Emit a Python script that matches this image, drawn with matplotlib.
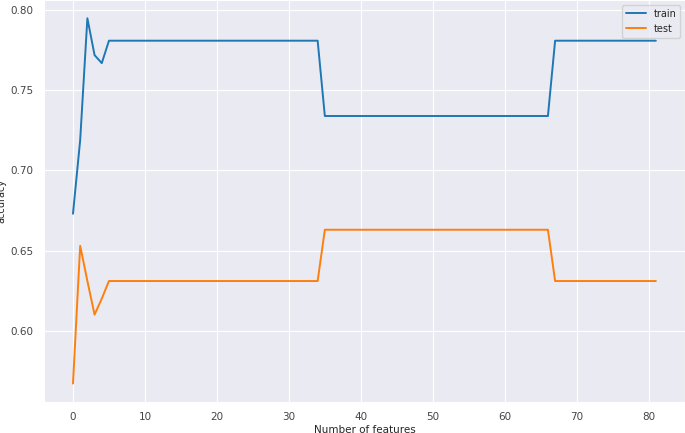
import matplotlib
matplotlib.use("Agg")
import matplotlib.pyplot as plt
import seaborn as sns
import numpy as np

n_features = list(range(82))
train_acc = ([0.673, 0.719, 0.795, 0.772, 0.767] + [0.781] * 30 +
             [0.734] * 32 + [0.781] * 15)
test_acc = ([0.567, 0.653, 0.631, 0.610, 0.620] + [0.631] * 30 +
            [0.663] * 32 + [0.631] * 15)

sns.set_style("darkgrid")
plt.rcParams['font.family'] = ['DejaVu Sans']

fig = plt.figure(figsize=(6.85, 4.33), dpi=100)
ax = fig.add_axes([0.064, 0.072, 0.936, 0.928])
ax.plot(n_features, train_acc, label="train", lw=1.4)
ax.plot(n_features, test_acc, label="test", lw=1.4)
ax.set_xlabel("Number of features", fontsize=7.5, labelpad=2)
ax.set_ylabel("accuracy", fontsize=7, labelpad=3)
ax.tick_params(labelsize=7.5, pad=4, colors="#444444")
ax.set_xticks(np.arange(0, 81, 10))
ax.set_yticks([0.60, 0.65, 0.70, 0.75, 0.80])
ax.legend(loc="upper right", fontsize=7)
fig.savefig("out.png", dpi=100)
